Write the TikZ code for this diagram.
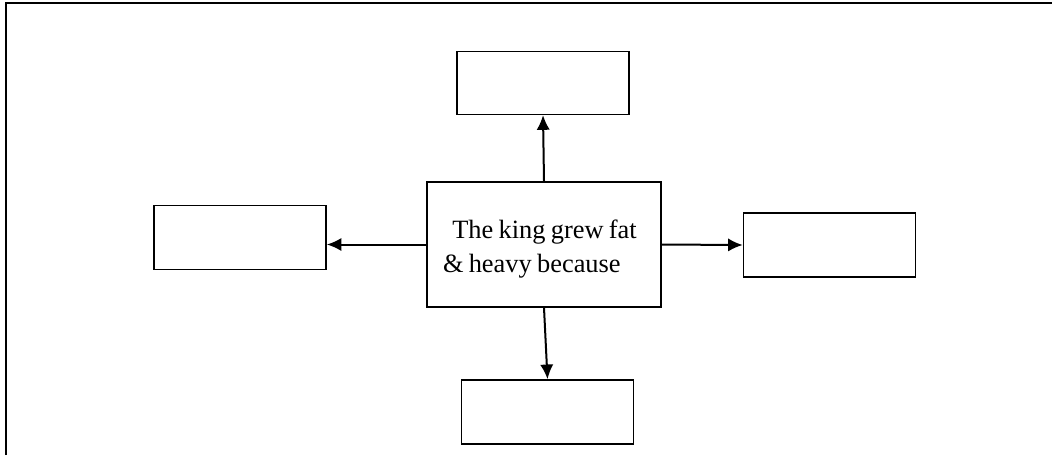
\documentclass[tikz,border=0pt]{standalone}
\usepackage{fontspec}
\setmainfont{Liberation Serif}
\usetikzlibrary{arrows.meta}

\begin{document}
\begin{tikzpicture}[x=0.75pt, y=-0.75pt, line width=1.5pt,
	answer/.style={draw, line width=1.2pt, minimum width=129pt, minimum height=47pt, inner sep=0pt},
	pointer/.style={-{Latex[length=11pt,width=10pt]}}]
			\useasboundingbox (0,0) rectangle (1052,455);
			% Define frame corners
			\coordinate (frame_bl) at (6,455);
			\coordinate (frame_tl) at (6,3);
			\coordinate (frame_tr) at (1052,3);
			\draw (frame_bl) -- (frame_tl) -- (frame_tr);
			
			% Define boxes
			\node[draw, line width=1.2pt, minimum width=175.5pt, minimum height=93.75pt, inner xsep=12pt, inner ysep=0pt, text width=151.5pt, align=left, font=\fontsize{19.8}{25.5}\selectfont] at (544,244.5) (king) {\spaceskip=0.2em plus 0.1em\relax\rule{0pt}{21pt}\hspace*{7pt}The king grew fat\\ \& heavy because};
			\node[answer] at (543,83) (ans_top) {};
			\node[answer, minimum height=48pt] at (240,237.5) (ans_left) {};
			\node[answer, minimum height=48pt] at (829.5,245) (ans_right) {};
			\node[answer, minimum height=48pt] at (547.5,412) (ans_bottom) {};
			
			% Draw arrows from the middle box
			\draw[pointer] (king.north) -- (ans_top.south);
			\draw[pointer] (king.west) -- (king.west -| ans_left.east);
			\draw[pointer] (king.east) -- (ans_right.west);
			\draw[pointer] (king.south) -- (ans_bottom.north);
		\end{tikzpicture}
\end{document}
